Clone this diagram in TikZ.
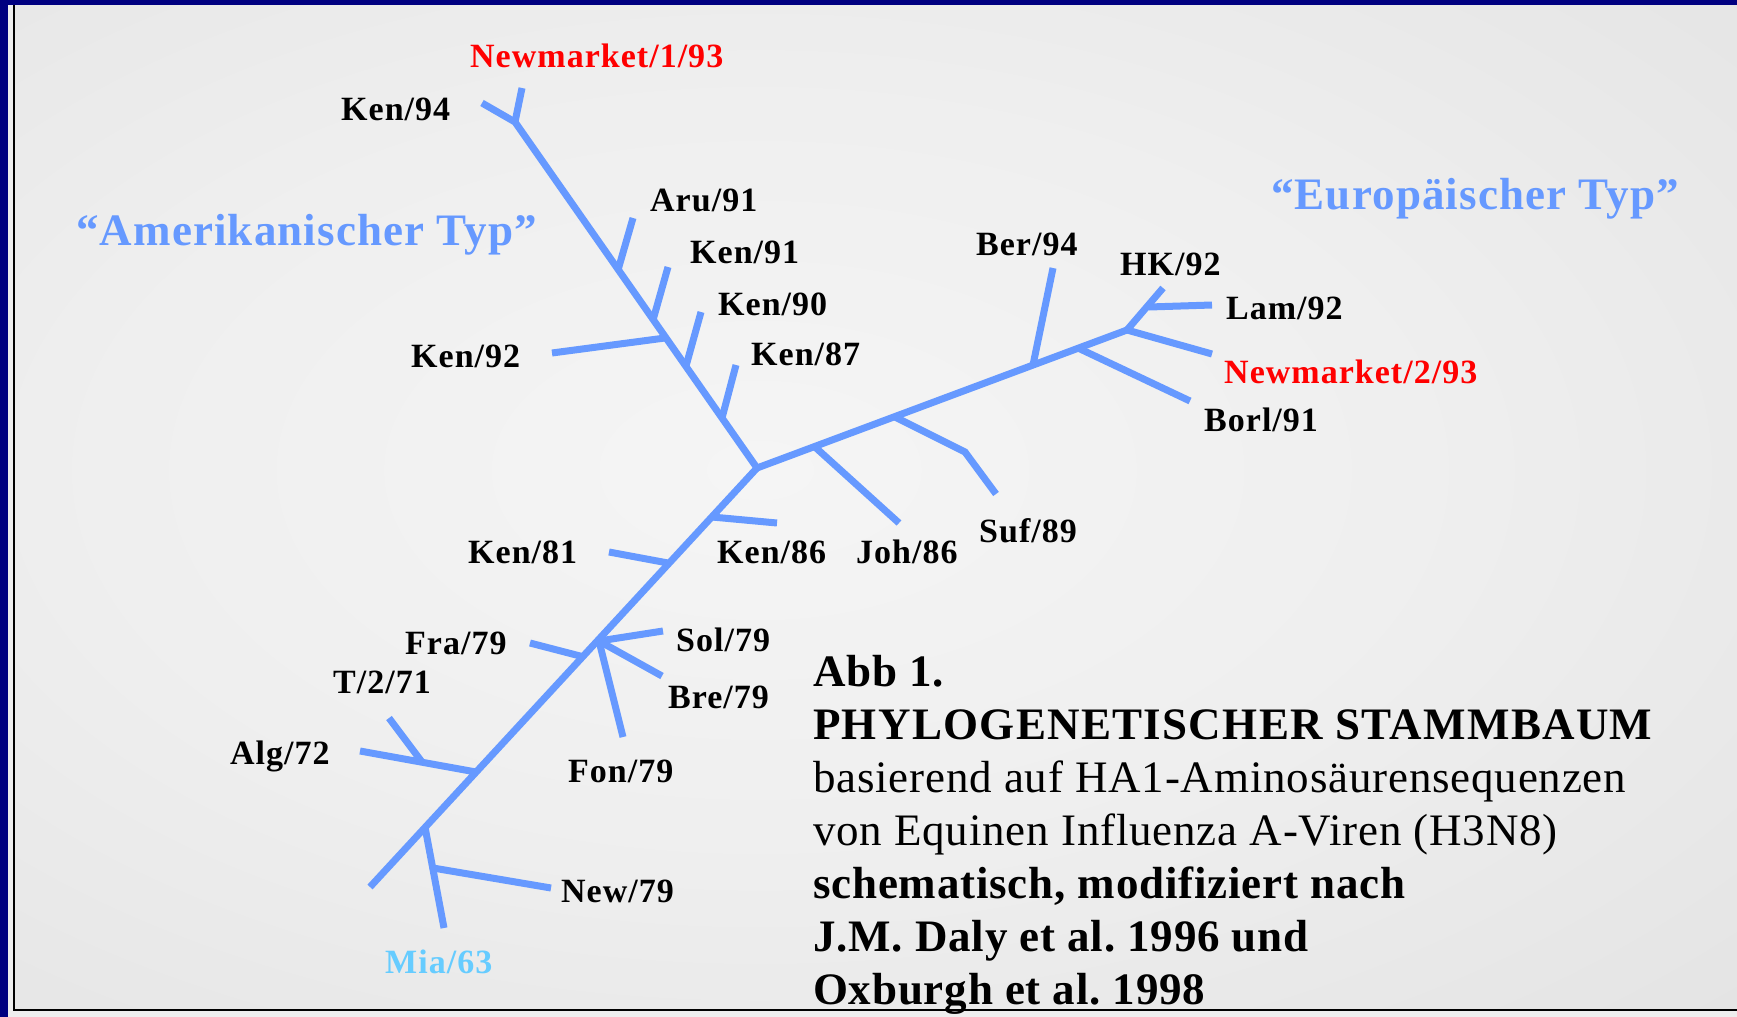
\documentclass[tikz,border=0pt]{standalone}
\usepackage{fontspec}
\setmainfont{Liberation Serif}
\newfontfamily\labfont[LetterSpace=3.0]{Liberation Serif}
\newfontfamily\typfont[LetterSpace=2.5]{Liberation Serif}
\newfontfamily\capfont[LetterSpace=1.8]{Liberation Serif}
\newfontfamily\headfont[LetterSpace=2.9]{Liberation Serif}
\frenchspacing

\definecolor{framenavy}{RGB}{0,0,128}
\definecolor{treeblue}{RGB}{102,153,255}
\definecolor{miablue}{RGB}{102,204,255}
\definecolor{bgin}{RGB}{245,245,245}
\definecolor{bgout}{RGB}{220,220,220}
\definecolor{stripe}{RGB}{238,238,238}

\pgfdeclareradialshading{bgglow}{\pgfpoint{0bp}{0bp}}{%
  color(0bp)=(bgin); color(12bp)=(bgin!75!bgout); color(34bp)=(bgout); color(50bp)=(bgout)}

\tikzset{
  branch/.style={draw=treeblue, line width=7pt},
  lab/.style={anchor=base west, inner sep=0pt,
              font=\labfont\bfseries\fontsize{34}{40}\selectfont},
  typ/.style={anchor=base west, inner sep=0pt, text=treeblue,
              font=\typfont\bfseries\fontsize{45}{54}\selectfont},
  capline/.style={anchor=base west, inner sep=0pt,
              font=\capfont\fontsize{45}{53}\selectfont},
  capbold/.style={capline, font=\capfont\bfseries\fontsize{45}{53}\selectfont},
  caphead/.style={capline, font=\headfont\bfseries\fontsize{45}{53}\selectfont},
}

\begin{document}
\begin{tikzpicture}[x=1pt, y=-1pt]
\useasboundingbox (0,0) rectangle (1737,1017);

% frame and background
\fill[stripe] (0,0) rectangle (1737,1017);
\begin{scope}
  \clip (15,5) rectangle (1737,1009);
  \fill[bgout] (15,5) rectangle (1737,1009);
  \shade[shading=bgglow] (760,470) ellipse [x radius=1400, y radius=780];
\end{scope}
\fill[framenavy] (0,0) rectangle (1737,5);
\fill[framenavy] (0,0) rectangle (8,1017);
\draw[line width=2.5pt] (14,5) -- (14,1010) -- (1737,1010);

% tree: junctions and tips
\coordinate (C) at (757,468);
\coordinate (A1) at (515,122);
\coordinate (tNm1) at (522,88);
\coordinate (tK94) at (482,103);
\coordinate (jAru) at (618,270);  \coordinate (tAru) at (633,218);
\coordinate (jK91) at (653,320);  \coordinate (tK91) at (668,267);
\coordinate (jK92) at (665,338);  \coordinate (tK92) at (552,353);
\coordinate (jK90) at (686,366);  \coordinate (tK90) at (701,312);
\coordinate (jK87) at (722,418);  \coordinate (tK87) at (736,365);

\coordinate (N1) at (1127,330);
\coordinate (jJoh) at (815,447);  \coordinate (tJoh) at (899,523);
\coordinate (jSuf) at (895,417);  \coordinate (bSuf) at (965,452);
\coordinate (tSuf) at (996,494);
\coordinate (jBer) at (1033,365); \coordinate (tBer) at (1053,268);
\coordinate (jBorl) at (1078,348); \coordinate (tBorl) at (1190,401);
\coordinate (tNm2) at (1212,354);
\coordinate (tHK) at (1163,288);  \coordinate (jLam) at (1149,307);
\coordinate (tLam) at (1212,305);

\coordinate (E) at (370,887);
\coordinate (jK86) at (712,517);  \coordinate (tK86) at (777,523);
\coordinate (jK81) at (668,563);  \coordinate (tK81) at (609,552);
\coordinate (jFra) at (584,657);  \coordinate (tFra) at (530,643);
\coordinate (jSol) at (599,641);  \coordinate (tSol) at (663,631);
\coordinate (tBre) at (662,676);  \coordinate (tFon) at (623,737);
\coordinate (jAlg) at (476,772);  \coordinate (tAlg) at (360,751);
\coordinate (jT) at (422,762);    \coordinate (tT) at (389,718);
\coordinate (jMia) at (425,827);  \coordinate (tMia) at (444,928);
\coordinate (jNew) at (433,868);  \coordinate (tNew) at (551,888);

% main stems
\draw[branch] (tK94) -- (A1) -- (C) -- (E);
\draw[branch] (tNm1) -- (A1);
\draw[branch] (C) -- (N1);

% American side branches
\draw[branch] (jAru) -- (tAru);
\draw[branch] (jK91) -- (tK91);
\draw[branch] (jK92) -- (tK92);
\draw[branch] (jK90) -- (tK90);
\draw[branch] (jK87) -- (tK87);

% European side branches
\draw[branch] (jJoh) -- (tJoh);
\draw[branch] (jSuf) -- (bSuf) -- (tSuf);
\draw[branch] (jBer) -- (tBer);
\draw[branch] (jBorl) -- (tBorl);
\draw[branch] (N1) -- (tNm2);
\draw[branch] (N1) -- (tHK);
\draw[branch] (jLam) -- (tLam);

% older lineages
\draw[branch] (jK86) -- (tK86);
\draw[branch] (jK81) -- (tK81);
\draw[branch] (jFra) -- (tFra);
\draw[branch] (jSol) -- (tSol);
\draw[branch] (jSol) -- (tBre);
\draw[branch] (jSol) -- (tFon);
\draw[branch] (jAlg) -- (tAlg);
\draw[branch] (jT) -- (tT);
\draw[branch] (jMia) -- (tMia);
\draw[branch] (jNew) -- (tNew);

% strain labels
\node[lab, text=red] (lNm1) at (470,67) {Newmarket/1/93};
\node[lab] (lK94) at (341,120) {Ken/94};
\node[lab] (lAru) at (650,211) {Aru/91};
\node[lab] (lK91) at (690,263) {Ken/91};
\node[lab] (lK90) at (718,315) {Ken/90};
\node[lab] (lK87) at (751,365) {Ken/87};
\node[lab] (lK92) at (411,367) {Ken/92};
\node[lab] (lK81) at (468,563) {Ken/81};
\node[lab] (lK86) at (717,563) {Ken/86};
\node[lab] (lJoh) at (856,563) {Joh/86};
\node[lab] (lSuf) at (979,542) {Suf/89};
\node[lab] (lBer) at (976,255) {Ber/94};
\node[lab] (lHK) at (1120,275) {HK/92};
\node[lab] (lLam) at (1226,319) {Lam/92};
\node[lab, text=red] (lNm2) at (1224,383) {Newmarket/2/93};
\node[lab] (lBorl) at (1204,431) {Borl/91};
\node[lab] (lFra) at (405,654) {Fra/79};
\node[lab] (lSol) at (676,651) {Sol/79};
\node[lab] (lBre) at (668,708) {Bre/79};
\node[lab] (lFon) at (568,782) {Fon/79};
\node[lab] (lT) at (333,693) {T/2/71};
\node[lab] (lAlg) at (230,764) {Alg/72};
\node[lab] (lNew) at (561,902) {New/79};
\node[lab, text=miablue] (lMia) at (385,973) {Mia/63};

% group titles
\node[typ] (amer) at (76,245) {“Amerikanischer Typ”};
\node[typ] (euro) at (1271,209) {“Europäischer Typ”};

% figure caption
\node[capbold] (cap1) at (813,686) {Abb 1.};
\node[caphead] (cap2) at (813,739) {PHYLOGENETISCHER STAMMBAUM};
\node[capline] (cap3) at (813,792) {basierend auf HA1-Aminosäurensequenzen};
\node[capline] (cap4) at (813,845) {von Equinen Influenza A-Viren (H3N8)};
\node[capbold] (cap5) at (813,898) {schematisch, modifiziert nach};
\node[capbold] (cap6) at (813,951) {J.M. Daly et al. 1996 und};
\node[capbold] (cap7) at (813,1004) {Oxburgh et al. 1998};
\end{tikzpicture}
\end{document}
